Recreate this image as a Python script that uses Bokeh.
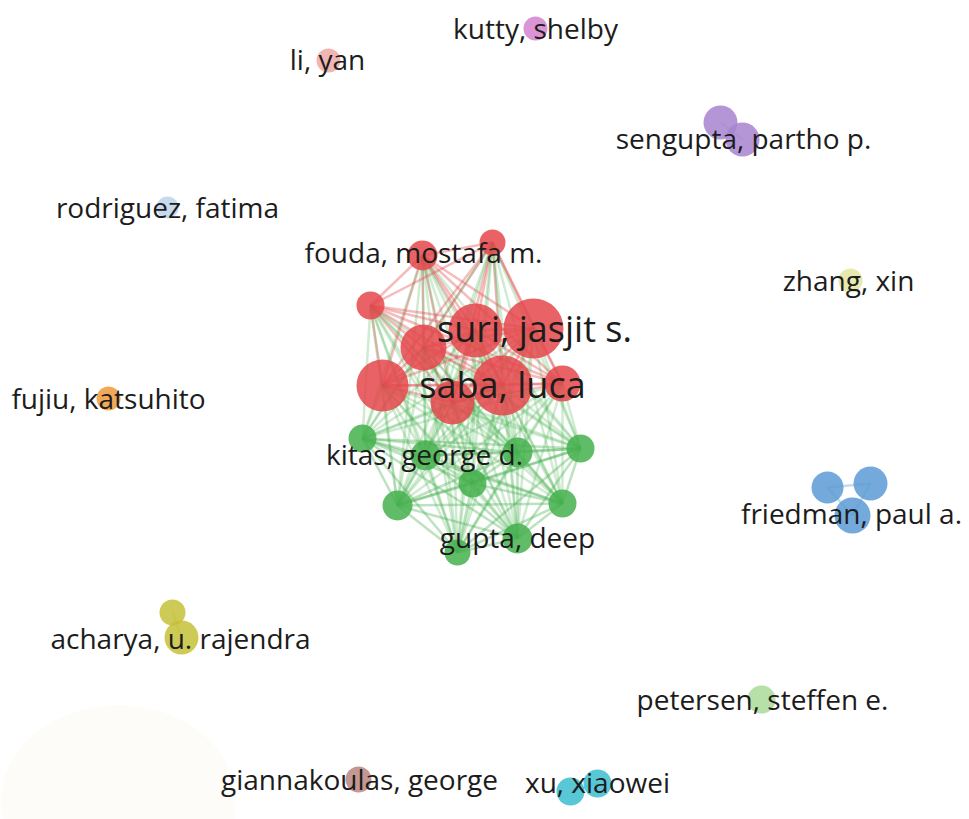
from bokeh.plotting import figure
from bokeh.models import Range1d, ColumnDataSource
from bokeh.core.properties import value
from bokeh.embed import file_html
from bokeh.resources import INLINE

W, H = 969, 819

# Cluster colours
cluster_colors = {
    "red": "#e4464b",
    "green": "#45b04d",
    "blue": "#5b9bd5",
    "olive": "#c4c137",
    "purple": "#a784cf",
    "pink": "#d483cf",
    "salmon": "#efa9a6",
    "lightblue": "#bcd3ec",
    "paleyellow": "#e3e5a0",
    "orange": "#ee9a3c",
    "lightgreen": "#a9db98",
    "brown": "#b8857f",
    "cyan": "#3dbdcf",
}

# Author nodes: map position (x, y), weight radius, cluster
node_x = [422, 492, 370, 533, 475, 423, 382, 452, 502, 562,
          362, 425, 517, 580, 472, 397, 562, 517, 457,
          535, 328, 720, 742, 167, 850, 108,
          827, 870, 852, 172, 181, 761, 358, 570, 597]
node_y = [255, 242, 305, 328, 330, 347, 385, 402, 385, 383,
          438, 455, 452, 448, 483, 505, 503, 538, 552,
          28, 60, 122, 139, 207, 280, 398,
          487, 483, 515, 612, 637, 699, 779, 791, 783]
node_r = [15, 13, 14, 30, 27, 23, 26, 22, 30, 18,
          14, 15, 15, 14, 14, 15, 14, 15, 13,
          12, 12, 17, 17, 11, 12, 12,
          16, 17, 18, 13, 17, 14, 13, 14, 14]
node_cluster = ["red"] * 10 + ["green"] * 9 + [
    "pink", "salmon", "purple", "purple", "lightblue", "paleyellow", "orange",
    "blue", "blue", "blue", "olive", "olive", "lightgreen", "brown", "cyan", "cyan"]

# Co-authorship groups (every pair inside a group is linked)
link_groups = [list(range(0, 19)), [21, 22], [26, 27, 28], [29, 30], [33, 34]]

# Labels
labels = ["kutty, shelby", "li, yan", "sengupta, partho p.", "rodriguez, fatima",
          "fouda, mostafa m.", "zhang, xin", "suri, jasjit s.", "saba, luca",
          "fujiu, katsuhito", "kitas, george d.", "friedman, paul a.", "gupta, deep",
          "acharya, u. rajendra", "petersen, steffen e.", "giannakoulas, george",
          "xu, xiaowei"]
label_x = [535, 327, 743, 167, 423, 848, 534, 502, 108, 424, 851, 517, 180, 762, 359, 597]
label_y = [27, 58, 137, 206, 251, 279, 328, 384, 397, 453, 512, 536, 637, 698, 778, 781]
label_size = [28, 28, 28, 28, 28, 28, 36, 36, 28, 28, 28, 28, 28, 28, 28, 28]

p = figure(width=W, height=H, output_backend="svg", toolbar_location=None,
           x_range=Range1d(0, W), y_range=Range1d(H, 0),
           min_border=0, outline_line_color=None, background_fill_color="white")
p.axis.visible = False
p.grid.visible = False

# faint paper tint in the lower-left corner
p.ellipse(x=[118], y=[800], width=[235], height=[190], fill_color="#faf8ef",
          fill_alpha=0.45, line_color=None)

# links
xs, ys, cols, alphas = [], [], [], []
for grp in link_groups:
    for a_i in range(len(grp)):
        for b_i in range(a_i + 1, len(grp)):
            a, b = grp[a_i], grp[b_i]
            xs.append([node_x[a], node_x[b]])
            ys.append([node_y[a], node_y[b]])
            ca, cb = node_cluster[a], node_cluster[b]
            cols.append(cluster_colors[cb if ca != cb else ca])
            alphas.append(0.36 if ca == cb else 0.26)
p.multi_line(xs=xs, ys=ys, line_color=cols, line_alpha=alphas, line_width=2.5)

# nodes
src = ColumnDataSource(dict(x=node_x, y=node_y, r=node_r,
                            c=[cluster_colors[k] for k in node_cluster]))
p.circle(x="x", y="y", radius="r", fill_color="c", fill_alpha=0.85,
         line_color=None, source=src)

# labels
lsrc = ColumnDataSource(dict(x=label_x, y=label_y, t=labels,
                             s=[f"{s}px" for s in label_size]))
p.text(x="x", y="y", text="t", text_font_size="s", text_font=value("Open Sans"),
       text_align="center", text_baseline="middle", text_color="#1c1c1c",
       source=lsrc)

open("out.html", "w").write(file_html(p, INLINE))
